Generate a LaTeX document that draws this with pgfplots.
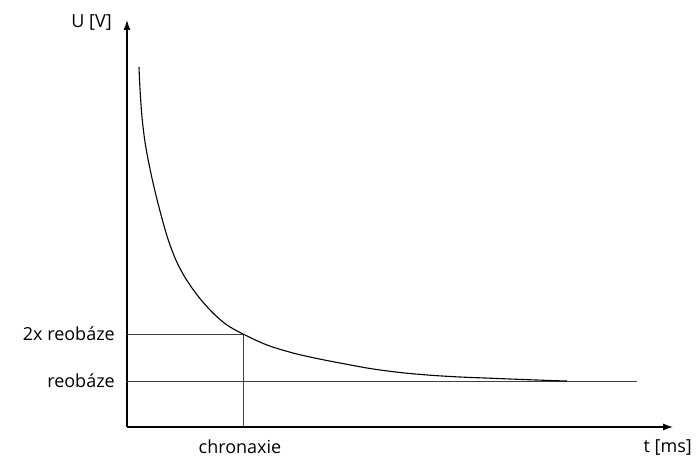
\documentclass[border=0pt]{standalone}
\usepackage{pgfplots}
\pgfplotsset{compat=1.18}
\usepackage{fontspec}
\setmainfont{Open Sans}
\usetikzlibrary{arrows.meta}

\begin{document}
\fontsize{18bp}{21bp}\selectfont
\begin{tikzpicture}
\begin{axis}[
    scale only axis,
    width=546bp, height=407bp,
    xmin=0, xmax=546, ymin=0, ymax=407,
    axis lines=left,
    axis line style={line width=1.3bp, -{Latex[length=10bp,width=7bp]}},
    xtick=\empty, ytick=\empty,
    clip=false,
]
% reobaze and 2x reobaze levels
\addplot[line width=1bp, black!75] coordinates {(0,46) (510,46)};
\addplot[line width=1bp, black!75] coordinates {(0,93) (116,93)};
\addplot[line width=1bp, black!75] coordinates {(116,0) (116,93)};

% strength-duration curve
\addplot[line width=1.1bp, black, smooth, tension=0.55] coordinates {
    (12,360) (13,338) (15,310) (18,285) (22,263) (27,240) (33,216)
    (40,191) (48,169) (56,153) (65,139) (75,126) (87,113) (100,102)
    (116,93) (140,82) (166,74) (190,68.5) (213,64) (243,58.5)
    (273,54.5) (303,51.8) (333,50) (363,48.8) (393,47.6) (426,46.4)
    (440,46)
};

\node[anchor=east] at (axis cs:-9,404) {U [V]};
\node[anchor=east] at (axis cs:571,-20) {t [ms]};
\node at (axis cs:113,-20) {chronaxie};
\node[anchor=east] at (axis cs:-6,93) {2x reobáze};
\node[anchor=east] at (axis cs:-6,46) {reobáze};
\path (axis cs:-127,-27) rectangle (axis cs:571,427);
\end{axis}
\end{tikzpicture}
\end{document}
